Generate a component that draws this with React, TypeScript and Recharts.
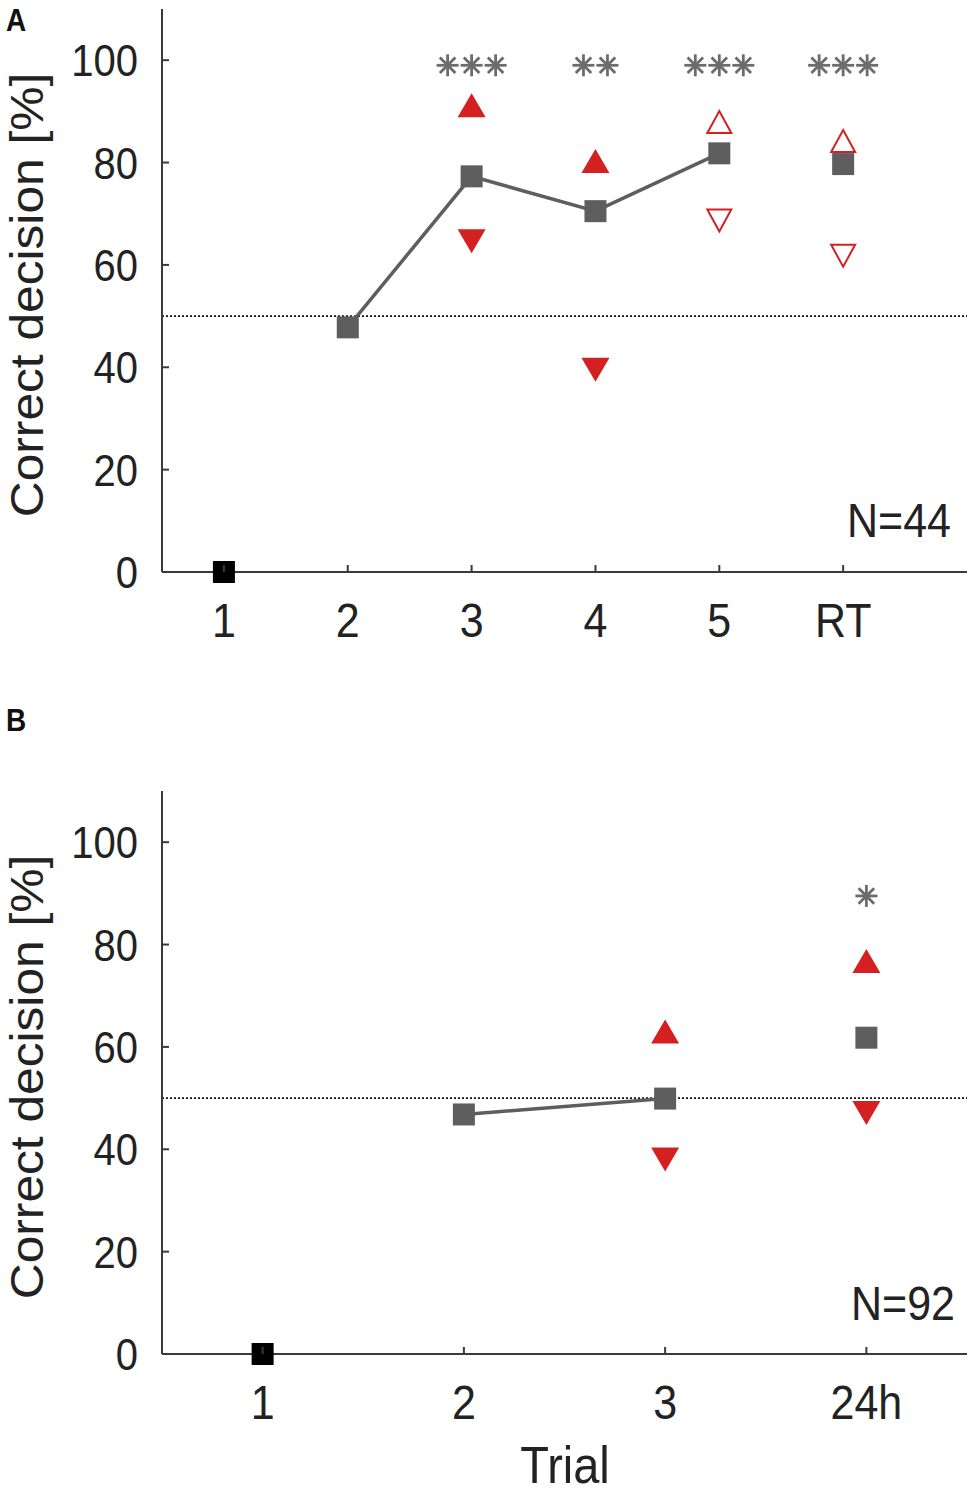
import React from "react";
import {
  ComposedChart,
  ReferenceLine,
  Scatter,
  XAxis,
  YAxis,
} from "recharts";

// Panel A
const trialsA = ["1", "2", "3", "4", "5", "RT"];
const firstA = [0, null, null, null, null, null];
const meanA = [null, 47.8, 77.3, 70.5, 81.8, 79.7];
const linkedA = [false, true, true, true, true, false];
const upFilledA = [null, null, 91.2, 80.3, null, null];
const downFilledA = [null, null, 64.6, 39.5, null, null];
const upOpenA = [null, null, null, null, 87.9, 84.2];
const downOpenA = [null, null, null, null, 68.7, 61.8];
const starsA = ["", "", "***", "**", "***", "***"];
const starLevelA = [null, null, 99, 99, 99, 99];

// Panel B
const trialsB = ["1", "2", "3", "24h"];
const firstB = [0, null, null, null];
const meanB = [null, 46.8, 49.9, 61.8];
const linkedB = [false, true, true, false];
const upFilledB = [null, null, 63.0, 76.8];
const downFilledB = [null, null, 38.0, 47.1];
const starsB = ["", "", "", "*"];
const starLevelB = [null, null, null, 89.5];

const yTicks = [0, 20, 40, 60, 80, 100];

const FONT = "'Liberation Sans', Arial, Helvetica, sans-serif";
const TEXT = "#222";
const AXIS = "#3a3a3a";
const GRAY = "#5e5e5e";
const RED = "#d42020";
const STAR = "#6c6c6c";

type V = number | null;

const pts = (vals: V[], keep?: boolean[]) =>
  vals
    .map((v, i) => (v == null || (keep && !keep[i]) ? null : { x: i + 1, y: v }))
    .filter(Boolean) as { x: number; y: number }[];

const starPts = (levels: V[], stars: string[]) =>
  levels
    .map((v, i) => (v == null ? null : { x: i + 1, y: v, n: stars[i].length }))
    .filter(Boolean) as { x: number; y: number; n: number }[];

const Square = (fill: string) => (p: any) =>
  <rect x={p.cx - 11} y={p.cy - 11} width={22} height={22} fill={fill} />;

const TriUp = (filled: boolean) => (p: any) =>
  filled ? (
    <path d={`M${p.cx - 14},${p.cy + 12}L${p.cx + 14},${p.cy + 12}L${p.cx},${p.cy - 12}Z`} fill={RED} />
  ) : (
    <path d={`M${p.cx - 12},${p.cy + 11}L${p.cx + 12},${p.cy + 11}L${p.cx},${p.cy - 11}Z`} fill="#fff" stroke={RED} strokeWidth={2} />
  );

const TriDown = (filled: boolean) => (p: any) =>
  filled ? (
    <path d={`M${p.cx - 14},${p.cy - 12}L${p.cx + 14},${p.cy - 12}L${p.cx},${p.cy + 12}Z`} fill={RED} />
  ) : (
    <path d={`M${p.cx - 12},${p.cy - 11}L${p.cx + 12},${p.cy - 11}L${p.cx},${p.cy + 11}Z`} fill="#fff" stroke={RED} strokeWidth={2} />
  );

const Stars = (p: any) => {
  const n = p.payload.n;
  const out = [];
  for (let k = 0; k < n; k++) {
    const cx = p.cx + (k - (n - 1) / 2) * 24;
    const r = 11;
    const d = r * 0.707;
    out.push(
      <g key={k} stroke={STAR} strokeWidth={2.8}>
        <line x1={cx - r} x2={cx + r} y1={p.cy} y2={p.cy} />
        <line x1={cx} x2={cx} y1={p.cy - r} y2={p.cy + r} />
        <line x1={cx - d} x2={cx + d} y1={p.cy - d} y2={p.cy + d} />
        <line x1={cx - d} x2={cx + d} y1={p.cy + d} y2={p.cy - d} />
      </g>
    );
  }
  return <g>{out}</g>;
};

const YTick = (p: any) => (
  <g>
    <line x1={p.x} x2={p.x + 7} y1={p.y} y2={p.y} stroke={AXIS} strokeWidth={2} />
    <text
      transform={`translate(${p.x - 24},${p.y + 16}) scale(1,1.1)`}
      textAnchor="end"
      fontSize={40}
      fontFamily={FONT}
      fill={TEXT}
    >
      {p.payload.value}
    </text>
  </g>
);

const makeXTick = (labels: string[]) => (p: any) => (
  <g>
    <line x1={p.x} x2={p.x} y1={p.y} y2={p.y - 7} stroke={AXIS} strokeWidth={2} />
    <text
      transform={`translate(${p.x},${p.y + 65}) scale(1,1.1)`}
      textAnchor="middle"
      fontSize={43}
      fontFamily={FONT}
      fill={TEXT}
    >
      {labels[p.payload.value - 1]}
    </text>
  </g>
);

function Panel(props: {
  height: number;
  top: number;
  xHeight: number;
  labels: string[];
  first: V[];
  mean: V[];
  linked: boolean[];
  upFilled: V[];
  downFilled: V[];
  upOpen?: V[];
  downOpen?: V[];
  stars: string[];
  starLevel: V[];
}) {
  const n = props.labels.length;
  const xMax = n === 6 ? 7 : 4.5;
  return (
    <ComposedChart
      width={976}
      height={props.height}
      margin={{ top: props.top, right: 9, bottom: 0, left: 0 }}
    >
      <XAxis
        type="number"
        dataKey="x"
        domain={[0.5, xMax]}
        ticks={props.labels.map((_, i) => i + 1)}
        height={props.xHeight}
        tickSize={0}
        tickMargin={0}
        tickLine={false}
        axisLine={{ stroke: AXIS, strokeWidth: 2 }}
        tick={makeXTick(props.labels)}
      />
      <YAxis
        type="number"
        dataKey="y"
        domain={[0, 110]}
        ticks={yTicks}
        width={162}
        tickSize={0}
        tickMargin={0}
        tickLine={false}
        axisLine={{ stroke: AXIS, strokeWidth: 2 }}
        tick={YTick}
      />
      <ReferenceLine y={50} stroke="#111" strokeWidth={1.6} strokeDasharray="2 2" />
      <Scatter
        data={pts(props.mean, props.linked)}
        line={{ stroke: GRAY, strokeWidth: 3.5 }}
        shape={Square(GRAY)}
        isAnimationActive={false}
      />
      <Scatter
        data={pts(props.mean, props.linked.map((l) => !l))}
        shape={Square(GRAY)}
        isAnimationActive={false}
      />
      <Scatter data={pts(props.first)} shape={Square("#000")} isAnimationActive={false} />
      <Scatter data={pts(props.upFilled)} shape={TriUp(true)} isAnimationActive={false} />
      <Scatter data={pts(props.downFilled)} shape={TriDown(true)} isAnimationActive={false} />
      {props.upOpen && (
        <Scatter data={pts(props.upOpen)} shape={TriUp(false)} isAnimationActive={false} />
      )}
      {props.downOpen && (
        <Scatter data={pts(props.downOpen)} shape={TriDown(false)} isAnimationActive={false} />
      )}
      <Scatter
        data={starPts(props.starLevel, props.stars)}
        shape={Stars}
        isAnimationActive={false}
      />
    </ComposedChart>
  );
}

const yTitle = (cy: number) => (
  <text
    transform={`translate(43,${cy}) rotate(-90) scale(1.08,1)`}
    textAnchor="middle"
    fontSize={46}
    fontFamily={FONT}
    fill={TEXT}
  >
    Correct decision [%]
  </text>
);

export default function App() {
  return (
    <div
      style={{
        position: "absolute",
        left: 0,
        top: 0,
        width: 976,
        height: 1493,
        background: "#fff",
      }}
    >
      <div style={{ position: "absolute", left: 0, top: 0 }}>
        <Panel
          height={680}
          top={9}
          xHeight={108}
          labels={trialsA}
          first={firstA}
          mean={meanA}
          linked={linkedA}
          upFilled={upFilledA}
          downFilled={downFilledA}
          upOpen={upOpenA}
          downOpen={downOpenA}
          stars={starsA}
          starLevel={starLevelA}
        />
      </div>
      <div style={{ position: "absolute", left: 0, top: 700 }}>
        <Panel
          height={793}
          top={91}
          xHeight={139}
          labels={trialsB}
          first={firstB}
          mean={meanB}
          linked={linkedB}
          upFilled={upFilledB}
          downFilled={downFilledB}
          stars={starsB}
          starLevel={starLevelB}
        />
      </div>
      <svg
        width={976}
        height={1493}
        style={{ position: "absolute", left: 0, top: 0, pointerEvents: "none" }}
      >
        <text transform="translate(6,31) scale(1,1.1)" fontSize={28} fontWeight="bold" fontFamily={FONT} fill="#111">
          A
        </text>
        <text transform="translate(6,731) scale(1,1.1)" fontSize={28} fontWeight="bold" fontFamily={FONT} fill="#111">
          B
        </text>
        {yTitle(295)}
        {yTitle(1077)}
        <text transform="translate(951,537) scale(1,1.1)" textAnchor="end" fontSize={43} fontFamily={FONT} fill={TEXT}>
          N=44
        </text>
        <text transform="translate(955,1320) scale(1,1.1)" textAnchor="end" fontSize={43} fontFamily={FONT} fill={TEXT}>
          N=92
        </text>
        <text transform="translate(565,1483) scale(1,1.1)" textAnchor="middle" fontSize={47} fontFamily={FONT} fill={TEXT}>
          Trial
        </text>
      </svg>
    </div>
  );
}
